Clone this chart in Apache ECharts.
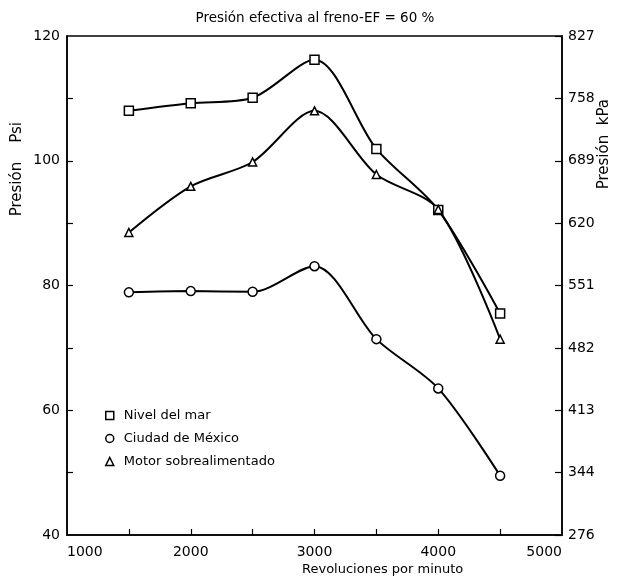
<!DOCTYPE html>
<html>
<head>
<meta charset="utf-8">
<script src="https://cdn.jsdelivr.net/npm/echarts@6/dist/echarts.min.js"></script>
<style>
html,body{margin:0;padding:0;background:#fff;}
#c{width:624px;height:581px;}
</style>
</head>
<body>
<div id="c"></div>
<script>
// ---- data ----
const rpm = [1500, 2000, 2500, 3000, 3500, 4000, 4500];
const nivelDelMar = [108.0, 109.2, 110.1, 116.2, 101.9, 92.1, 75.5];
const ciudadMexico = [78.9, 79.1, 79.0, 83.1, 71.4, 63.5, 49.5];
const motorSobre = [88.5, 95.9, 99.8, 108.0, 97.8, 92.2, 71.4];

const rpmLabels = [1000, 2000, 3000, 4000, 5000];
const rpmTicks = [1500, 2000, 2500, 3000, 3500, 4000, 4500];
const psiLabels = [40, 60, 80, 100, 120];
const psiTicks = [50, 60, 70, 80, 90, 100, 110];
const kpaLabels = ['276', '344', '413', '482', '551', '620', '689', '758', '827'];

const seriesNames = ['Nivel del mar', 'Ciudad de México', 'Motor sobrealimentado'];
const titleText = 'Presión efectiva al freno-EF = 60 %';

// ---- chart ----
const FONT = 'DejaVu Sans';
const pair = (ys) => rpm.map((x, i) => [x, ys[i]]);
const chart = echarts.init(document.getElementById('c'));

const mkSeries = (name, ys, symbol, size) => ({
  name: name,
  type: 'line',
  data: pair(ys),
  smooth: 0.3,
  symbol: symbol,
  symbolSize: size,
  showSymbol: true,
  lineStyle: { color: '#000', width: 2 },
  itemStyle: { color: '#fff', borderColor: '#000', borderWidth: 1.5 },
  emphasis: { disabled: true },
  animation: false,
  z: 3
});

chart.setOption({
  animation: false,
  backgroundColor: '#fff',
  title: {
    text: titleText,
    left: 310,
    textAlign: 'center',
    top: 6,
    textStyle: { fontFamily: FONT, fontSize: 13.5, fontWeight: 'normal', color: '#000' }
  },
  grid: {
    left: 67, right: 62, top: 36, bottom: 46,
    show: true, borderColor: '#000', borderWidth: 1.5, backgroundColor: 'transparent'
  },
  legend: {
    orient: 'vertical',
    left: 100,
    top: 404,
    itemWidth: 8,
    itemHeight: 8,
    itemGap: 10,
    data: [
      { name: seriesNames[0], icon: 'rect' },
      { name: seriesNames[1], icon: 'circle' },
      { name: seriesNames[2], icon: 'triangle' }
    ],
    itemStyle: { color: '#fff', borderColor: '#000', borderWidth: 1.5 },
    textStyle: { fontFamily: FONT, fontSize: 13, color: '#000', padding: [0, 0, 0, 5] },
    selectedMode: false
  },
  xAxis: {
    type: 'value',
    min: 1000, max: 5000, interval: 500,
    axisLine: { show: true, lineStyle: { color: '#000', width: 1.5 } },
    axisTick: { show: true, inside: true, length: 6, customValues: rpmTicks, lineStyle: { color: '#000', width: 1.2 } },
    axisLabel: {
      customValues: rpmLabels,
      formatter: (v) => String(v),
      margin: 10,
      fontFamily: FONT, fontSize: 14, color: '#000',
      alignMinLabel: 'left', alignMaxLabel: 'right'
    },
    splitLine: { show: false }
  },
  yAxis: [
    {
      type: 'value', position: 'left',
      min: 40, max: 120, interval: 10,
      axisLine: { show: true, lineStyle: { color: '#000', width: 1.5 } },
      axisTick: { show: true, inside: true, length: 6, customValues: psiTicks, lineStyle: { color: '#000', width: 1.2 } },
      axisLabel: { customValues: psiLabels, formatter: (v) => String(v), margin: 7, fontFamily: FONT, fontSize: 14, color: '#000' },
      splitLine: { show: false }
    },
    {
      type: 'value', position: 'right',
      min: 40, max: 120, interval: 10,
      axisLine: { show: true, lineStyle: { color: '#000', width: 1.5 } },
      axisTick: { show: true, inside: true, length: 7, lineStyle: { color: '#000', width: 1.2 } },
      axisLabel: {
        margin: 6, fontFamily: FONT, fontSize: 14, color: '#000',
        formatter: (v) => kpaLabels[Math.round((v - 40) / 10)]
      },
      splitLine: { show: false }
    }
  ],
  graphic: [
    {
      type: 'text', left: 10, top: 122, rotation: Math.PI / 2,
      style: { text: 'Presión    Psi', font: '15px "DejaVu Sans"', fill: '#000' }
    },
    {
      type: 'text', left: 597, top: 99, rotation: Math.PI / 2,
      style: { text: 'Presión  kPa', font: '15px "DejaVu Sans"', fill: '#000' }
    },
    {
      type: 'text', left: 302, top: 563,
      style: { text: 'Revoluciones por minuto', font: '13px "DejaVu Sans"', fill: '#000' }
    }
  ],
  series: [
    mkSeries(seriesNames[0], nivelDelMar, 'rect', 9),
    mkSeries(seriesNames[1], ciudadMexico, 'circle', 9),
    mkSeries(seriesNames[2], motorSobre, 'triangle', 8)
  ]
});
</script>
</body>
</html>
